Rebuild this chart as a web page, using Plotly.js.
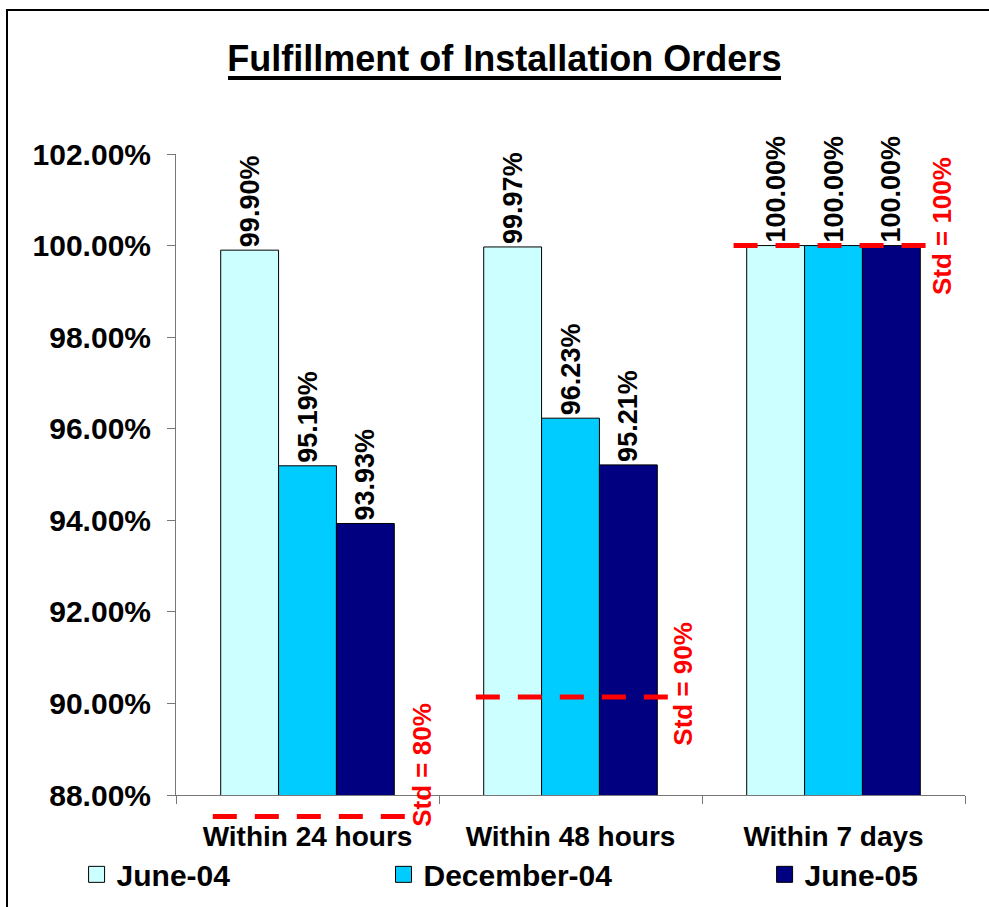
<!DOCTYPE html>
<html>
<head>
<meta charset="utf-8">
<script src="https://cdn.plot.ly/plotly-3.0.1.min.js"></script>
<style>html,body{margin:0;padding:0;background:#fff;}#chart{width:989px;height:907px;}</style>
</head>
<body>
<div id="chart"></div>
<script>
// ---- data ----
const categories = ['Within 24 hours', 'Within 48 hours', 'Within 7 days'];
const seriesNames = ['June-04', 'December-04', 'June-05'];
const june04 = [0.9990, 0.9997, 1.0000];
const dec04 = [0.9519, 0.9623, 1.0000];
const june05 = [0.9393, 0.9521, 1.0000];
const stdLabels = ['Std = 80%', 'Std = 90%', 'Std = 100%'];
const stdLevels = [0.80, 0.90, 1.00];
// where the standard lines are drawn on the chart (80% is off-scale, drawn just under the axis)
const stdDrawnAt = [0.8753, 0.9014, 1.0000];
const yTickVals = [0.88, 0.90, 0.92, 0.94, 0.96, 0.98, 1.00, 1.02];

// ---- styles ----
const colors = ['#CCFFFF', '#00CCFF', '#000080'];
const FONT = 'Liberation Sans, Arial, Helvetica, sans-serif';
const yMin = 0.88, yMax = 1.02;
const toPaper = v => (v - yMin) / (yMax - yMin);

const seriesValues = [june04, dec04, june05];
const traces = [];
seriesValues.forEach((vals, i) => {
  traces.push({
    type: 'bar', x: categories, y: vals, name: seriesNames[i],
    marker: {color: colors[i], line: {color: '#000', width: 1}},
    texttemplate: '%{y:.2%}', textposition: 'outside', textangle: -90,
    textfont: {family: FONT, size: 27, color: '#000', weight: 'bold'},
    constraintext: 'none', cliponaxis: false, showlegend: false, hoverinfo: 'skip'
  });
});
// legend entries (one legend per series, positioned as in the reference)
const legendNames = ['legend', 'legend2', 'legend3'];
seriesValues.forEach((vals, i) => {
  traces.push({
    type: 'scatter', mode: 'markers', x: [null], y: [null], name: seriesNames[i],
    legend: legendNames[i],
    marker: {symbol: 'square', size: 16, color: colors[i], line: {color: '#000', width: 1}},
    showlegend: true, hoverinfo: 'skip'
  });
});

const shapes = [];
const annotations = [];
const stdX = [[-0.36, 0.375], [-0.36, 0.37], [-0.38, 0.37]];
const stdLabelPos = [[0.435, 0.047], [1.43, 0.173], [2.41, 0.888]];
categories.forEach((c, i) => {
  shapes.push({
    type: 'line', xref: 'x', yref: 'paper',
    x0: i + stdX[i][0], x1: i + stdX[i][1],
    y0: toPaper(stdDrawnAt[i]), y1: toPaper(stdDrawnAt[i]),
    line: {color: '#FF0000', width: 5, dash: '24px,18px'}, layer: 'above'
  });
  annotations.push({
    xref: 'x', yref: 'paper', x: stdLabelPos[i][0], y: stdLabelPos[i][1],
    text: stdLabels[i], textangle: -90, showarrow: false,
    xanchor: 'center', yanchor: 'middle',
    font: {family: FONT, size: 26, color: '#FF0000', weight: 'bold'}
  });
});
// title underline
shapes.push({type: 'line', xref: 'paper', yref: 'paper', x0: 0.0659, x1: 0.7668, y0: 1.1186, y1: 1.1186,
  line: {color: '#000', width: 4}});
// chart frame
shapes.push({type: 'rect', xref: 'paper', yref: 'paper', x0: -0.2142, x1: 1.05, y0: -0.19, y1: 1.2246,
  line: {color: '#000', width: 2}, fillcolor: 'rgba(0,0,0,0)'});

const legendCommon = {
  orientation: 'h', yref: 'container', y: 0.036, yanchor: 'middle', xanchor: 'left',
  font: {family: FONT, size: 30, color: '#000', weight: 'bold'},
  bgcolor: 'rgba(0,0,0,0)', borderwidth: 0, itemclick: false
};

const layout = {
  width: 989, height: 907,
  margin: {l: 176, r: 24, t: 154, b: 112, autoexpand: false},
  paper_bgcolor: '#fff', plot_bgcolor: '#fff',
  title: {text: 'Fulfillment of Installation Orders', xref: 'container', x: 0.51, xanchor: 'center',
    yref: 'container', y: 0.936, yanchor: 'middle',
    font: {family: FONT, size: 36, color: '#000', weight: 'bold'}},
  barmode: 'group', bargap: 0.34, bargroupgap: 0,
  xaxis: {type: 'category', range: [-0.5, 2.5], showline: true, linecolor: '#777', linewidth: 1,
    ticks: 'outside', tickson: 'boundaries', ticklen: 8, tickcolor: '#777', showgrid: false,
    ticklabelstandoff: 16, automargin: false,
    tickfont: {family: FONT, size: 28, color: '#000', weight: 'bold'}, zeroline: false},
  yaxis: {range: [yMin, yMax], tickvals: yTickVals, tickformat: '.2%', showline: true, linecolor: '#777',
    linewidth: 1, ticks: 'outside', ticklen: 8, tickcolor: '#777', showgrid: false, zeroline: false,
    ticklabelstandoff: 10, automargin: false,
    tickfont: {family: FONT, size: 30, color: '#000', weight: 'bold'}},
  showlegend: true,
  legend: Object.assign({}, legendCommon, {x: -0.126}),
  legend2: Object.assign({}, legendCommon, {x: 0.263}),
  legend3: Object.assign({}, legendCommon, {x: 0.746}),
  shapes: shapes, annotations: annotations
};

Plotly.newPlot('chart', traces, layout, {displayModeBar: false, staticPlot: true});
</script>
</body>
</html>
